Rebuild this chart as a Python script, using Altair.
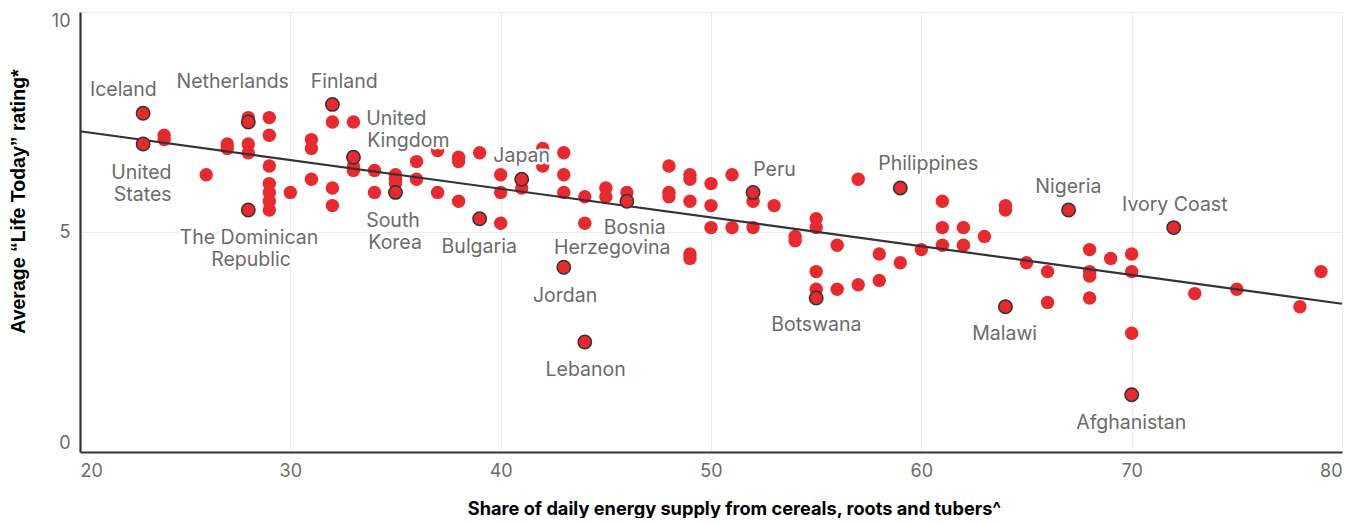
import altair as alt
import pandas as pd

RED = "#e8292e"
DARK = "#333333"
GREY_TXT = "#6b6b6b"

# Unlabelled countries: share of daily energy from cereals, roots and tubers (%) and rating
share = [24, 24, 26, 27, 27, 28, 28, 28,
         29, 29, 29, 29, 29, 29, 29, 30,
         31, 31, 31, 32, 32, 32, 33, 33, 33,
         34, 34, 35, 35, 35, 36, 36, 37, 37,
         38, 38, 38, 39, 40, 40, 40, 41, 42, 42,
         43, 43, 43, 44, 44, 45, 45, 46,
         48, 48, 48, 49, 49, 49, 49, 49,
         50, 50, 50, 51, 51, 52, 52, 53, 54, 54,
         55, 55, 55, 55, 56, 56, 57, 57, 58, 58,
         59, 60, 61, 61, 61, 62, 62, 63, 64, 64,
         65, 66, 66, 68, 68, 68, 68, 69, 70, 70, 70,
         73, 75, 78, 79]
rating = [7.2, 7.1, 6.3, 7.0, 6.9, 7.6, 7.0, 6.8,
          7.6, 7.2, 6.5, 6.1, 5.9, 5.7, 5.5, 5.9,
          7.1, 6.9, 6.2, 7.5, 6.0, 5.6, 7.5, 6.5, 6.4,
          6.4, 5.9, 6.3, 6.2, 6.1, 6.6, 6.2, 6.85, 5.9,
          6.7, 6.6, 5.7, 6.8, 6.3, 5.9, 5.2, 6.0, 6.9, 6.5,
          6.8, 6.3, 5.9, 5.8, 5.2, 6.0, 5.8, 5.9,
          6.5, 5.9, 5.8, 6.3, 6.2, 5.7, 4.5, 4.4,
          6.1, 5.6, 5.1, 6.3, 5.1, 5.7, 5.1, 5.6, 4.9, 4.8,
          5.3, 5.1, 4.1, 3.7, 4.7, 3.7, 6.2, 3.8, 4.5, 3.9,
          4.3, 4.6, 5.7, 5.1, 4.7, 5.1, 4.7, 4.9, 5.6, 5.5,
          4.3, 4.1, 3.4, 4.6, 4.1, 4.0, 3.5, 4.4, 4.5, 4.1, 2.7,
          3.6, 3.7, 3.3, 4.1]

# Highlighted countries
hl_country = ["Iceland", "United States", "Netherlands", "The Dominican Republic", "Finland",
              "United Kingdom", "South Korea", "Bulgaria", "Japan", "Jordan", "Lebanon",
              "Bosnia Herzegovina", "Peru", "Botswana", "Philippines", "Malawi", "Nigeria",
              "Ivory Coast", "Afghanistan"]
hl_share = [23, 23, 28, 28, 32, 33, 35, 39, 41, 43, 44, 46, 52, 55, 59, 64, 67, 72, 70]
hl_rating = [7.7, 7.0, 7.5, 5.5, 7.9, 6.7, 5.9, 5.3, 6.2, 4.2, 2.5, 5.7, 5.9, 3.5, 6.0, 3.3, 5.5, 5.1, 1.3]

# Label lines and their anchor position (data units, baseline of text)
label_text = ["Iceland", "Netherlands", "Finland", "United", "States", "The Dominican", "Republic",
              "United", "Kingdom", "South", "Korea", "Bulgaria", "Japan", "Jordan", "Lebanon",
              "Bosnia", "Herzegovina", "Peru", "Botswana", "Philippines", "Malawi", "Nigeria",
              "Ivory Coast", "Afghanistan"]
label_x = [22.06, 27.26, 32.56, 22.92, 22.98, 28.03, 28.13,
           35.04, 35.61, 34.88, 34.98, 38.98, 41.0, 43.06, 44.04,
           46.37, 45.30, 53.02, 55.01, 60.33, 63.96, 66.99,
           72.05, 69.98]
label_y = [8.10, 8.27, 8.27, 6.21, 5.71, 4.73, 4.23,
           7.44, 6.94, 5.12, 4.61, 4.53, 6.58, 3.41, 1.73,
           4.95, 4.50, 6.28, 2.75, 6.41, 2.54, 5.89,
           5.48, 0.53]

# Trend line end points
trend_share = [20, 80]
trend_rating = [7.29, 3.37]

base_df = pd.DataFrame({"share": share, "rating": rating})
hl_df = pd.DataFrame({"country": hl_country, "share": hl_share, "rating": hl_rating})
lab_df = pd.DataFrame({"text": label_text, "share": label_x, "rating": label_y})
trend_df = pd.DataFrame({"share": trend_share, "rating": trend_rating})

xs = alt.Scale(domain=[20, 80], nice=False, zero=False)
ys = alt.Scale(domain=[0, 10], nice=False)

x_enc = alt.X("share:Q", scale=xs,
              axis=alt.Axis(values=[20, 30, 40, 50, 60, 70, 80], format="d",
                            title="Share of daily energy supply from cereals, roots and tubers^",
                            titleX=654, titleY=62, titleBaseline="alphabetic",
                            titleAnchor="start", titleAlign="center", titleFontSize=18.2))
y_enc = alt.Y("rating:Q", scale=ys,
              axis=alt.Axis(values=[0, 5, 10], format="d",
                            title="Average \u201cLife Today\u201d rating*",
                            titleX=-62, titleY=189, titleBaseline="middle",
                            titleAlign="center", titleAngle=-90,
                            titleFont="Liberation Sans", titleFontSize=19.5))

LBL_SIZE = 19.5
base = alt.Chart(base_df).mark_circle(size=180, color=RED, opacity=1).encode(x=x_enc, y=y_enc)
trend = alt.Chart(trend_df).mark_line(color=DARK, strokeWidth=2.2).encode(x="share:Q", y="rating:Q")
halo = alt.Chart(lab_df).mark_text(font="Inter", fontSize=LBL_SIZE, baseline="alphabetic", align="center",
                                   stroke="white", strokeWidth=5, strokeJoin="round",
                                   color="white").encode(x="share:Q", y="rating:Q", text="text:N")
hl = alt.Chart(hl_df).mark_circle(size=180, fill=RED, stroke=DARK, strokeWidth=1.5,
                                  opacity=1).encode(x="share:Q", y="rating:Q")
labels = alt.Chart(lab_df).mark_text(font="Inter", fontSize=LBL_SIZE, baseline="alphabetic", align="center",
                                     color=GREY_TXT).encode(x="share:Q", y="rating:Q", text="text:N")

chart = alt.layer(base, trend, halo, hl, labels).properties(
    width=1262, height=440,
    autosize=alt.AutoSizeParams(type="none"),
    padding={"left": 72, "top": 4, "right": 6, "bottom": 66},
).configure_view(strokeWidth=0).configure_axis(
    grid=True, gridColor="#ebebeb", gridWidth=1,
    domainColor=DARK, domainWidth=2.2,
    ticks=False, labelFlush=True,
    labelFont="Inter", labelFontSize=18, labelColor=GREY_TXT, labelPadding=10,
    titleFont="Inter", titleFontSize=17, titleFontWeight="bold", titleColor="black",
)

chart.save("out.html", embed_options={"renderer": "svg", "actions": False})
